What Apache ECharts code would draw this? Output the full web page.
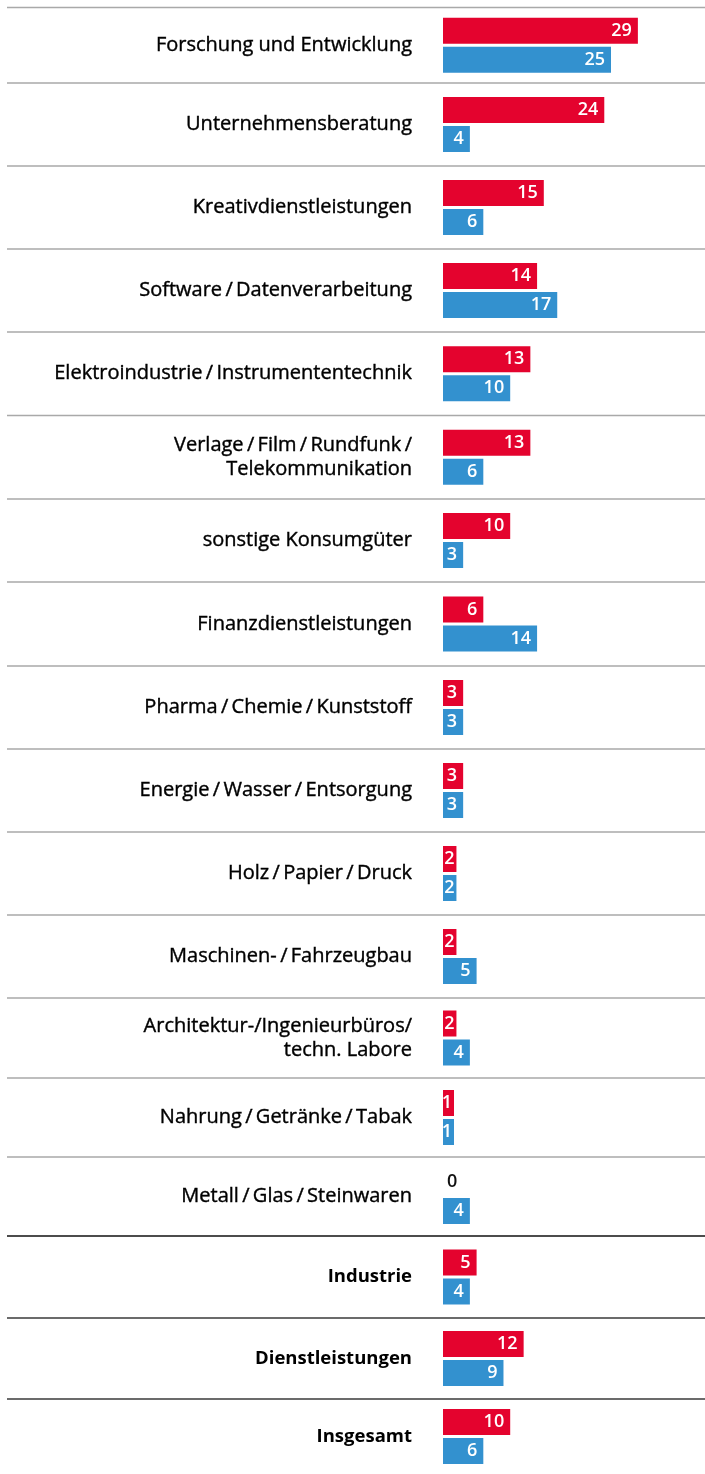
<!DOCTYPE html>
<html>
<head>
<meta charset="utf-8">
<script src="https://cdn.jsdelivr.net/npm/echarts@6/dist/echarts.min.js"></script>
<style>
  html, body { margin: 0; padding: 0; background: #fff; }
  #chart { width: 705px; height: 1474px; }
</style>
</head>
<body>
<div id="chart"></div>
<script>
const categories = [
  "Forschung und Entwicklung",
  "Unternehmensberatung",
  "Kreativdienstleistungen",
  "Software\u2009/\u2009Datenverarbeitung",
  "Elektroindustrie\u2009/\u2009Instrumententechnik",
  "Verlage\u2009/\u2009Film\u2009/\u2009Rundfunk\u2009/\nTelekommunikation",
  "sonstige Konsumgüter",
  "Finanzdienstleistungen",
  "Pharma\u2009/\u2009Chemie\u2009/\u2009Kunststoff",
  "Energie\u2009/\u2009Wasser\u2009/\u2009Entsorgung",
  "Holz\u2009/\u2009Papier\u2009/\u2009Druck",
  "Maschinen-\u2009/\u2009Fahrzeugbau",
  "Architektur-/Ingenieurbüros/\ntechn. Labore",
  "Nahrung\u2009/\u2009Getränke\u2009/\u2009Tabak",
  "Metall\u2009/\u2009Glas\u2009/\u2009Steinwaren",
  "Industrie",
  "Dienstleistungen",
  "Insgesamt"
];
const redValues = [29, 24, 15, 14, 13, 13, 10, 6, 3, 3, 2, 2, 2, 1, 0, 5, 12, 10];
const blueValues = [25, 4, 6, 17, 10, 6, 3, 14, 3, 3, 2, 5, 4, 1, 4, 4, 9, 6];
const boldCategories = ["Industrie", "Dienstleistungen", "Insgesamt"];

// layout: row separators (px), value scale
const rowLines = [7.5, 83, 166, 249, 332, 415.5, 499, 582, 666, 749, 832, 915, 998, 1078, 1157, 1236, 1318, 1399, 1481];
const lineColors = rowLines.slice(0, 18).map((_, i) => i === 15 ? "#111" : i > 15 ? "#3a3a3a" : "#a9a9a9");
const RED = "#e4032e", BLUE = "#3391cf";
const FONT = "'Open Sans', 'Noto Sans', sans-serif";
const xMax = 30, pxPerUnit = 6.72, barLeft = 443;

const chart = echarts.init(document.getElementById("chart"), null, { renderer: "canvas" });

const grids = [], xAxes = [], yAxes = [], series = [];
categories.forEach((name, i) => {
  const bold = boldCategories.includes(name);
  grids.push({ left: barLeft, width: xMax * pxPerUnit, top: rowLines[i], height: rowLines[i + 1] - rowLines[i] });
  xAxes.push({ gridIndex: i, type: "value", min: 0, max: xMax, show: false });
  yAxes.push({
    gridIndex: i, type: "category", data: [name],
    axisLine: { show: false }, axisTick: { show: false },
    axisLabel: {
      margin: 31, fontFamily: FONT, fontSize: bold ? 18.5 : 20, lineHeight: 24, color: "#000",
      fontWeight: bold ? "bold" : "normal", align: "right",
      textBorderColor: "#000", textBorderWidth: bold ? 0 : 0.4
    }
  });
  const item = (v, color) => v === 0
    ? { value: v, itemStyle: { color: "rgba(0,0,0,0)" }, label: { color: "#111", position: "insideLeft", distance: 4 } }
    : { value: v, itemStyle: { color }, label: { distance: v <= 2 ? 2 : 6 } };
  [[redValues[i], RED], [blueValues[i], BLUE]].forEach(([v, color]) => {
    series.push({
      type: "bar", xAxisIndex: i, yAxisIndex: i,
      data: [item(v, color)],
      barWidth: 26, barGap: "11.5%", barMinHeight: 11,
      animation: false, silent: true,
      label: { show: true, position: "insideRight", color: "#fff", fontFamily: FONT, fontSize: 18, fontWeight: 600 }
    });
  });
});

chart.setOption({
  animation: false,
  grid: grids, xAxis: xAxes, yAxis: yAxes, series,
  graphic: rowLines.slice(0, 18).map((y, i) => ({
    type: "line", silent: true,
    shape: { x1: 7, y1: y, x2: 705, y2: y },
    style: { stroke: lineColors[i], lineWidth: 1.5 }
  }))
});
</script>
</body>
</html>
